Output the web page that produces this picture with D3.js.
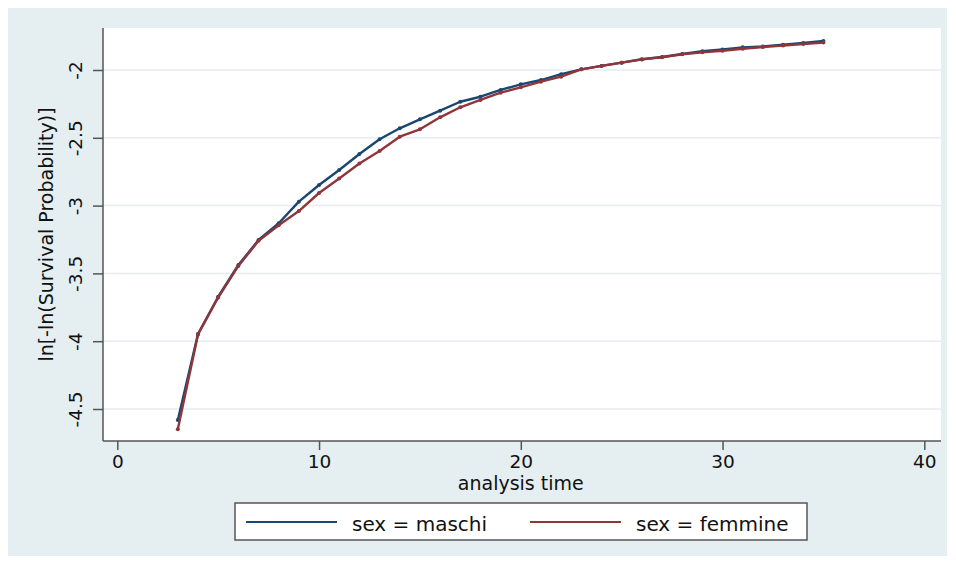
<!DOCTYPE html>
<html>
<head lang="it">
    <meta charset="UTF-8">
    <title>ln[-ln(Survival Probability)]</title>
    <script type="text/javascript" src="https://d3js.org/d3.v7.min.js"></script>
    <style type="text/css">
        body { margin: 0; background: #ffffff; }
        text { font-family: "DejaVu Sans", sans-serif; fill: #111; }
        .tick text { font-size: 18.5px; }
        .title { font-size: 19px; }
        .leg { font-size: 20px; }
    </style>
</head>
<body>
<script type="text/javascript">
    // analysis time (years) and ln[-ln(S(t))] per group
    var times = [3,4,5,6,7,8,9,10,11,12,13,14,15,16,17,18,19,20,21,22,23,24,25,26,27,28,29,30,31,32,33,34,35];
    var maschi = [-4.581,-3.947,-3.672,-3.438,-3.254,-3.130,-2.971,-2.848,-2.737,-2.619,-2.511,-2.430,-2.364,-2.300,-2.234,-2.197,-2.147,-2.106,-2.074,-2.031,-1.995,-1.970,-1.946,-1.921,-1.904,-1.882,-1.862,-1.848,-1.833,-1.826,-1.814,-1.800,-1.786];
    var femmine = [-4.650,-3.950,-3.678,-3.445,-3.260,-3.145,-3.040,-2.907,-2.800,-2.690,-2.598,-2.492,-2.437,-2.349,-2.275,-2.221,-2.167,-2.128,-2.086,-2.049,-1.995,-1.970,-1.946,-1.922,-1.906,-1.884,-1.870,-1.858,-1.843,-1.830,-1.820,-1.808,-1.798];
    var seriesNames = ["sex = maschi", "sex = femmine"];
    var seriesColors = ["#1a476f", "#90353b"];
    var xTicks = [0,10,20,30,40];
    var yTicks = [-4.5,-4,-3.5,-3,-2.5,-2];

    var W = 956, H = 562;
    var plot = {left: 103, right: 941, top: 28, bottom: 441};

    var svg = d3.select("body").append("svg")
        .attr("width", W).attr("height", H);

    // graph region
    svg.append("rect").attr("x", 8).attr("y", 8)
        .attr("width", 939).attr("height", 548)
        .attr("fill", "#e5eef0");
    svg.append("rect").attr("x", plot.left).attr("y", plot.top)
        .attr("width", plot.right - plot.left).attr("height", plot.bottom - plot.top)
        .attr("fill", "#ffffff");

    var x = d3.scaleLinear().domain([0, 40]).range([117.3, 924.3]);
    var y = d3.scaleLinear().domain([-4.5, -2]).range([409, 70]);

    // gridlines
    svg.append("g").selectAll("line").data(yTicks).enter().append("line")
        .attr("x1", plot.left).attr("x2", plot.right)
        .attr("y1", function(d){ return y(d); })
        .attr("y2", function(d){ return y(d); })
        .attr("stroke", "#e6edef").attr("stroke-width", 1.5);

    // y axis
    var yAxis = svg.append("g").attr("transform", "translate(" + plot.left + ",0)")
        .call(d3.axisLeft(y).tickValues(yTicks).tickSize(10).tickPadding(5)
              .tickFormat(function(d){ return String(d); }));
    yAxis.select(".domain").remove();
    yAxis.selectAll(".tick line").attr("stroke", "#555").attr("stroke-width", 1.5);
    yAxis.selectAll(".tick text")
        .attr("x", null).attr("dy", null)
        .attr("text-anchor", "middle")
        .attr("transform", "translate(-21,0) rotate(-90)");

    // x axis
    var xAxis = svg.append("g").attr("transform", "translate(0," + plot.bottom + ")")
        .call(d3.axisBottom(x).tickValues(xTicks).tickSize(9).tickPadding(6)
              .tickFormat(d3.format("d")));
    xAxis.select(".domain").remove();
    xAxis.selectAll(".tick line").attr("stroke", "#555").attr("stroke-width", 1.5);
    xAxis.selectAll(".tick text").attr("dy", null).attr("y", 27);

    // axis lines
    svg.append("line").attr("x1", plot.left).attr("x2", plot.left)
        .attr("y1", plot.top).attr("y2", plot.bottom)
        .attr("stroke", "#555").attr("stroke-width", 1.5);
    svg.append("line").attr("x1", plot.left).attr("x2", plot.right)
        .attr("y1", plot.bottom).attr("y2", plot.bottom)
        .attr("stroke", "#555").attr("stroke-width", 1.5);

    // axis titles
    svg.append("text").attr("class", "title")
        .attr("text-anchor", "middle")
        .attr("transform", "translate(53," + ((plot.top + plot.bottom) / 2) + ") rotate(-90)")
        .text("ln[-ln(Survival Probability)]");
    svg.append("text").attr("class", "title")
        .attr("text-anchor", "middle")
        .attr("x", x(20)).attr("y", 490)
        .text("analysis time");

    // series
    var series = [maschi, femmine];
    var line = d3.line()
        .x(function(d, i){ return x(times[i]); })
        .y(function(d){ return y(d); });

    series.forEach(function(vals, k) {
        var g = svg.append("g");
        g.append("path").datum(vals)
            .attr("d", line)
            .attr("fill", "none")
            .attr("stroke", seriesColors[k])
            .attr("stroke-width", 2.4)
            .attr("stroke-linejoin", "round");
        g.selectAll("circle").data(vals).enter().append("circle")
            .attr("cx", function(d, i){ return x(times[i]); })
            .attr("cy", function(d){ return y(d); })
            .attr("r", 2)
            .attr("fill", seriesColors[k]);
    });

    // legend
    var leg = svg.append("g");
    leg.append("rect").attr("x", 235).attr("y", 503)
        .attr("width", 572).attr("height", 37)
        .attr("fill", "#ffffff").attr("stroke", "#555").attr("stroke-width", 1.5);
    var legX = [246, 530];
    seriesNames.forEach(function(name, k) {
        leg.append("line")
            .attr("x1", legX[k]).attr("x2", legX[k] + 91)
            .attr("y1", 522).attr("y2", 522)
            .attr("stroke", seriesColors[k]).attr("stroke-width", 2.2);
        leg.append("text").attr("class", "leg")
            .attr("x", legX[k] + 106).attr("y", 531)
            .text(name);
    });
</script>
</body>
</html>
